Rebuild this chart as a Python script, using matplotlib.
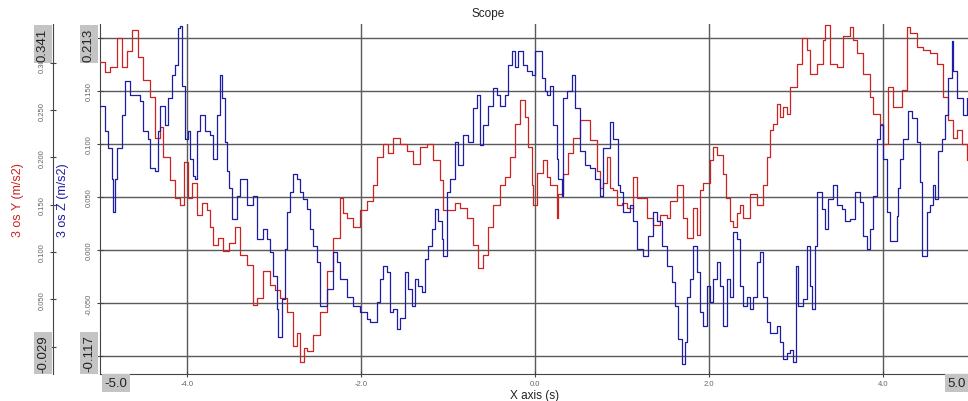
import matplotlib.pyplot as plt

plt.rcParams['font.family'] = ['Liberation Sans', 'DejaVu Sans']

# Acceleration trace, Y axis (red, left outer axis)
t_y = [-5.00, -4.94, -4.89, -4.80, -4.75, -4.69, -4.63, -4.56, -4.51, -4.43,
       -4.37, -4.31, -4.28, -4.20, -4.14, -4.08, -4.03, -3.99, -3.94, -3.89,
       -3.83, -3.77, -3.74, -3.70, -3.64, -3.59, -3.52, -3.45, -3.39, -3.31,
       -3.24, -3.20, -3.13, -3.05, -2.99, -2.93, -2.85, -2.78, -2.74, -2.70,
       -2.66, -2.62, -2.55, -2.47, -2.39, -2.32, -2.24, -2.21, -2.16, -2.09,
       -2.01, -1.93, -1.86, -1.82, -1.75, -1.69, -1.63, -1.55, -1.47, -1.40,
       -1.32, -1.24, -1.17, -1.09, -1.06, -0.98, -0.92, -0.86, -0.78, -0.71,
       -0.66, -0.60, -0.54, -0.48, -0.40, -0.34, -0.29, -0.23, -0.17, -0.11,
       -0.08, -0.03, -0.02, 0.02, 0.09, 0.14, 0.17, 0.25, 0.26, 0.32,
       0.38, 0.44, 0.52, 0.60, 0.63, 0.71, 0.75, 0.78, 0.83, 0.86,
       0.90, 0.94, 1.00, 1.06, 1.13, 1.17, 1.21, 1.29, 1.36, 1.44,
       1.52, 1.55, 1.63, 1.70, 1.75, 1.82, 1.86, 1.90, 1.93, 2.01,
       2.05, 2.09, 2.16, 2.20, 2.24, 2.28, 2.32, 2.36, 2.39, 2.47,
       2.55, 2.59, 2.62, 2.67, 2.70, 2.74, 2.78, 2.82, 2.85, 2.90,
       2.93, 3.01, 3.07, 3.13, 3.16, 3.24, 3.31, 3.33, 3.39, 3.47,
       3.54, 3.62, 3.66, 3.70, 3.77, 3.85, 3.89, 3.97, 4.00, 4.06,
       4.11, 4.17, 4.22, 4.28, 4.31, 4.39, 4.46, 4.54, 4.62, 4.69,
       4.75, 4.80, 4.85, 4.91, 4.97, 5.00]
acc_y = [0.301, 0.290, 0.296, 0.326, 0.296, 0.312, 0.335, 0.306, 0.282, 0.264,
         0.221, 0.232, 0.200, 0.176, 0.157, 0.150, 0.195, 0.157, 0.173, 0.139,
         0.152, 0.144, 0.126, 0.107, 0.115, 0.101, 0.110, 0.126, 0.097, 0.086,
         0.044, 0.051, 0.080, 0.065, 0.060, 0.051, 0.037, 0.001, 0.014, -0.016,
         -0.002, -0.005, 0.012, 0.037, 0.080, 0.115, 0.157, 0.141, 0.136, 0.126,
         0.144, 0.154, 0.171, 0.200, 0.214, 0.205, 0.221, 0.214, 0.207, 0.193,
         0.211, 0.214, 0.197, 0.176, 0.144, 0.144, 0.152, 0.147, 0.136, 0.107,
         0.083, 0.097, 0.126, 0.150, 0.171, 0.179, 0.200, 0.235, 0.261, 0.243,
         0.211, 0.171, 0.150, 0.184, 0.197, 0.179, 0.171, 0.136, 0.161, 0.182,
         0.205, 0.221, 0.239, 0.239, 0.218, 0.186, 0.168, 0.173, 0.200, 0.168,
         0.165, 0.150, 0.152, 0.147, 0.179, 0.157, 0.157, 0.136, 0.129, 0.139,
         0.136, 0.154, 0.171, 0.136, 0.115, 0.147, 0.118, 0.165, 0.173, 0.197,
         0.211, 0.203, 0.182, 0.157, 0.133, 0.126, 0.141, 0.150, 0.136, 0.161,
         0.150, 0.150, 0.171, 0.200, 0.229, 0.235, 0.256, 0.243, 0.253, 0.246,
         0.274, 0.299, 0.326, 0.314, 0.288, 0.299, 0.324, 0.340, 0.299, 0.296,
         0.328, 0.338, 0.324, 0.310, 0.288, 0.264, 0.246, 0.235, 0.214, 0.274,
         0.253, 0.253, 0.271, 0.338, 0.331, 0.317, 0.314, 0.310, 0.299, 0.264,
         0.239, 0.221, 0.229, 0.214, 0.197, 0.197]

# Acceleration trace, Z axis (blue, left inner axis)
t_z = [-5.00, -4.94, -4.91, -4.86, -4.85, -4.83, -4.80, -4.75, -4.71, -4.66,
       -4.57, -4.54, -4.51, -4.45, -4.43, -4.37, -4.33, -4.31, -4.25, -4.22,
       -4.17, -4.14, -4.10, -4.08, -4.06, -4.02, -3.99, -3.97, -3.93, -3.91,
       -3.89, -3.85, -3.79, -3.74, -3.70, -3.66, -3.62, -3.60, -3.56, -3.54,
       -3.52, -3.48, -3.43, -3.39, -3.31, -3.24, -3.20, -3.13, -3.08, -3.05,
       -3.01, -2.97, -2.95, -2.91, -2.87, -2.85, -2.82, -2.78, -2.74, -2.70,
       -2.67, -2.62, -2.59, -2.55, -2.51, -2.47, -2.44, -2.39, -2.32, -2.28,
       -2.24, -2.16, -2.09, -2.01, -1.93, -1.90, -1.82, -1.78, -1.75, -1.70,
       -1.67, -1.63, -1.59, -1.55, -1.49, -1.46, -1.41, -1.38, -1.34, -1.30,
       -1.26, -1.23, -1.18, -1.15, -1.11, -1.07, -1.06, -1.01, -0.98, -0.92,
       -0.89, -0.83, -0.77, -0.71, -0.67, -0.63, -0.60, -0.54, -0.48, -0.44,
       -0.40, -0.34, -0.31, -0.26, -0.23, -0.20, -0.14, -0.09, -0.03, 0.00,
       0.03, 0.08, 0.11, 0.14, 0.17, 0.21, 0.25, 0.26, 0.31, 0.32,
       0.37, 0.43, 0.46, 0.52, 0.57, 0.63, 0.69, 0.75, 0.78, 0.86,
       0.90, 0.95, 0.98, 1.01, 1.09, 1.13, 1.17, 1.24, 1.30, 1.36,
       1.40, 1.46, 1.52, 1.57, 1.61, 1.64, 1.69, 1.72, 1.75, 1.78,
       1.82, 1.86, 1.90, 1.93, 1.98, 2.01, 2.05, 2.09, 2.13, 2.16,
       2.21, 2.24, 2.28, 2.32, 2.36, 2.39, 2.44, 2.47, 2.51, 2.55,
       2.59, 2.62, 2.67, 2.70, 2.78, 2.82, 2.85, 2.90, 2.93, 2.97,
       3.00, 3.02, 3.08, 3.13, 3.16, 3.18, 3.22, 3.24, 3.30, 3.33,
       3.37, 3.43, 3.47, 3.53, 3.56, 3.62, 3.68, 3.74, 3.77, 3.82,
       3.85, 3.89, 3.93, 3.97, 4.00, 4.05, 4.08, 4.16, 4.17, 4.20,
       4.23, 4.29, 4.33, 4.39, 4.43, 4.45, 4.51, 4.54, 4.57, 4.60,
       4.63, 4.68, 4.71, 4.75, 4.79, 4.80, 4.85, 4.89, 4.92, 4.97, 5.00]
acc_z = [0.136, 0.112, 0.096, 0.067, 0.036, 0.067, 0.096, 0.127, 0.159, 0.146,
         0.146, 0.140, 0.112, 0.105, 0.077, 0.074, 0.112, 0.136, 0.118, 0.143,
         0.165, 0.174, 0.209, 0.211, 0.155, 0.105, 0.112, 0.086, 0.070, 0.067,
         0.112, 0.127, 0.112, 0.108, 0.086, 0.127, 0.165, 0.143, 0.102, 0.074,
         0.058, 0.029, 0.051, 0.067, 0.042, 0.051, 0.010, 0.020, 0.010, -0.002,
         -0.025, -0.056, -0.082, -0.046, 0.001, 0.036, 0.055, 0.072, 0.067, 0.055,
         0.048, 0.039, 0.020, 0.004, -0.011, -0.053, -0.053, -0.037, -0.002, -0.011,
         -0.027, -0.044, -0.053, -0.059, -0.065, -0.068, -0.049, -0.027, -0.015, -0.021,
         -0.059, -0.056, -0.075, -0.064, -0.021, -0.037, -0.053, -0.027, -0.034, -0.040,
         -0.009, 0.004, 0.020, 0.039, 0.027, 0.010, -0.006, 0.055, 0.067, 0.102,
         0.080, 0.108, 0.102, 0.134, 0.146, 0.099, 0.118, 0.136, 0.153, 0.146,
         0.136, 0.146, 0.174, 0.188, 0.172, 0.188, 0.174, 0.169, 0.165, 0.188,
         0.188, 0.162, 0.150, 0.146, 0.155, 0.118, 0.086, 0.067, 0.051, 0.143,
         0.150, 0.165, 0.134, 0.093, 0.080, 0.077, 0.067, 0.051, 0.096, 0.121,
         0.105, 0.061, 0.055, 0.036, 0.042, 0.027, 0.001, -0.006, 0.013, 0.036,
         0.027, 0.004, -0.015, -0.030, -0.053, -0.084, -0.108, -0.087, -0.044, -0.027,
         0.004, -0.021, -0.059, -0.072, -0.034, -0.049, -0.027, -0.011, -0.034, -0.072,
         -0.027, -0.044, 0.017, 0.010, -0.034, -0.053, -0.044, -0.056, -0.044, -0.011,
         -0.002, -0.044, -0.068, -0.078, -0.072, -0.087, -0.103, -0.097, -0.094, -0.106,
         -0.015, -0.053, -0.046, 0.004, -0.034, -0.056, 0.004, 0.055, 0.039, 0.020,
         0.048, 0.061, 0.042, 0.039, 0.027, 0.029, 0.055, 0.045, 0.013, 0.001,
         0.020, 0.051, 0.105, 0.118, 0.086, 0.036, 0.008, 0.032, 0.058, 0.086,
         0.105, 0.131, 0.124, 0.102, 0.064, -0.006, 0.036, 0.042, 0.061, 0.048,
         0.093, 0.105, 0.127, 0.162, 0.197, 0.169, 0.143, 0.143, 0.127, 0.143, 0.143]

y_lim = (-0.029, 0.341)
z_lim = (-0.117, 0.213)
x_lim = (-5.0, 5.0)
y_ticks = [0.0, 0.05, 0.10, 0.15, 0.20, 0.25, 0.30]
z_ticks = [-0.10, -0.05, 0.0, 0.05, 0.10, 0.15, 0.20]
x_ticks = [-4.0, -2.0, 0.0, 2.0, 4.0]

RED = '#cc2222'
BLUE = '#1c1ca6'
GRID = '#5a5a5a'
TICK = '#666666'

W, H = 968, 402
fig = plt.figure(figsize=(W / 100, H / 100), dpi=100, facecolor='white')


def tick_text(values, lim):
    # ticks sitting under the range boxes get no label
    out = []
    for v in values:
        hidden = abs(v - lim[0]) < 0.03 or (lim[1] - v) < 0.015
        out.append('' if hidden else '%.3f' % v)
    return out


# host axes carries the Z trace, the grid and the time axis
ax = fig.add_axes([100 / W, 27 / H, 870 / W, 350 / H])
ax.set_xlim(*x_lim)
ax.set_ylim(*z_lim)
ax.set_xticks(x_ticks)
ax.set_xticklabels(['%.1f' % v for v in x_ticks])
ax.set_yticks(z_ticks)
ax.set_yticklabels(tick_text(z_ticks, z_lim))
ax.grid(True, color=GRID, linewidth=1.0)
for side in ('top', 'right'):
    ax.spines[side].set_visible(False)
for side in ('left', 'bottom'):
    ax.spines[side].set_color('#444444')
ax.tick_params(axis='x', direction='inout', length=4, colors='#444444',
               labelsize=5.5, labelcolor=TICK, pad=2)
ax.tick_params(axis='y', direction='inout', length=4, colors='#444444',
               labelsize=5.5, labelcolor=TICK, pad=3)
for lbl in ax.get_yticklabels():
    lbl.set_rotation(90)
    lbl.set_va('center')

# second axis for the Y trace, spine moved out to the left
ax2 = ax.twinx()
ax2.set_ylim(*y_lim)
ax2.set_yticks(y_ticks)
ax2.set_yticklabels(tick_text(y_ticks, y_lim))
ax2.yaxis.set_ticks_position('left')
ax2.spines['left'].set_position(('outward', 47 * 0.72))
ax2.spines['left'].set_visible(True)
ax2.spines['left'].set_color('#444444')
for side in ('top', 'right', 'bottom'):
    ax2.spines[side].set_visible(False)
ax2.tick_params(axis='y', direction='inout', length=4, colors='#444444',
                labelsize=5.5, labelcolor=TICK, pad=3)
for lbl in ax2.get_yticklabels():
    lbl.set_rotation(90)
    lbl.set_va('center')

ax2.plot(t_y, acc_y, color=RED, linewidth=0.9, drawstyle='steps-post')
ax2.set_zorder(ax.get_zorder() + 1)
ax2.patch.set_visible(False)

# blue trace on its own overlay so it sits above the red one
ax3 = ax.twinx()
ax3.set_ylim(*z_lim)
ax3.axis('off')
ax3.set_zorder(ax2.get_zorder() + 1)
ax3.plot(t_z, acc_z, color=BLUE, linewidth=0.9, drawstyle='steps-post')


def px(x, y):
    return x / W, 1 - y / H


# axis titles
fig.text(*px(18, 200), '3 os Y (m/s2)', color=RED, rotation=90,
         ha='center', va='center', fontsize=9)
fig.text(*px(63, 200), '3 os Z (m/s2)', color=BLUE, rotation=90,
         ha='center', va='center', fontsize=9)
fig.text(*px(488, 14), 'Scope', ha='center', va='center', fontsize=8.5,
         color='#222222')
fig.text(*px(535, 396), 'X axis (s)', ha='center', va='center', fontsize=8.5,
         color='#222222')

# range limit boxes at the ends of each axis
box = dict(boxstyle='square,pad=0.2', fc='#c4c4c4', ec='none')
fig.text(*px(43, 45), '%.3f' % y_lim[1], rotation=90, ha='center', va='center',
         fontsize=9.5, bbox=box, color='#222222')
fig.text(*px(43, 354), '%.3f' % y_lim[0], rotation=90, ha='center', va='center',
         fontsize=9.5, bbox=box, color='#222222')
fig.text(*px(89, 45), '%.3f' % z_lim[1], rotation=90, ha='center', va='center',
         fontsize=9.5, bbox=box, color='#222222')
fig.text(*px(89, 354), '%.3f' % z_lim[0], rotation=90, ha='center', va='center',
         fontsize=9.5, bbox=box, color='#222222')
fig.text(*px(116, 384), '%.1f' % x_lim[0], ha='center', va='center',
         fontsize=9.5, bbox=box, color='#222222')
fig.text(*px(957, 384), '%.1f' % x_lim[1], ha='center', va='center',
         fontsize=9.5, bbox=box, color='#222222')

fig.savefig('out.png', dpi=100)
